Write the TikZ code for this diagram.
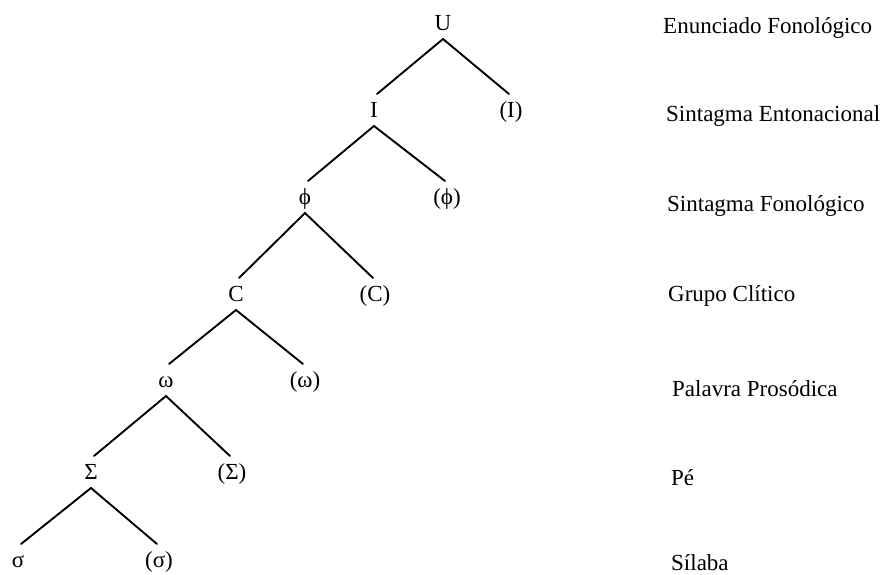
\documentclass[tikz,border=0pt]{standalone}
\usepackage{fontspec}
\setmainfont{Liberation Serif}
\begin{document}
\begin{tikzpicture}[x=1pt,y=-1pt,
  tnode/.style={inner sep=0pt,outer sep=0pt,text height=23pt,text depth=9pt,font=\fontsize{23}{27}\selectfont},
  lvl/.style={anchor=base west,inner sep=0pt,font=\fontsize{23}{27}\selectfont},
  edge/.style={line width=1.9pt,line cap=round}]
\useasboundingbox (0,0) rectangle (884,574);
% tree nodes
\node[tnode] (U) at (443,23) {U};
\node[tnode] (I) at (374,110) {I};
\node[tnode] (Ir) at (511,110) {(I)};
\node[tnode] (P) at (305,197) {ϕ};
\node[tnode] (Pr) at (447,197) {(ϕ)};
\node[tnode] (C) at (236,294) {C};
\node[tnode] (Cr) at (375,294) {(C)};
\node[tnode] (W) at (166,380) {ω};
\node[tnode] (Wr) at (305,380) {(ω)};
\node[tnode] (S) at (91,472) {Σ};
\node[tnode] (Sr) at (232,472) {(Σ)};
\node[tnode] (s) at (18,560) {σ};
\node[tnode] (sr) at (159,560) {(σ)};
% edges
\draw[edge] ([xshift=3pt]I.north) -- (U.south) -- ([xshift=-2pt]Ir.north);
\draw[edge] ([xshift=3pt]P.north) -- (I.south) -- ([xshift=-2pt]Pr.north);
\draw[edge] ([xshift=3pt]C.north) -- (P.south) -- ([xshift=-2pt]Cr.north);
\draw[edge] ([xshift=3pt]W.north) -- (C.south) -- ([xshift=-2pt]Wr.north);
\draw[edge] ([xshift=3pt]S.north) -- (W.south) -- ([xshift=-2pt]Sr.north);
\draw[edge] ([xshift=3pt]s.north) -- (S.south) -- ([xshift=-2pt]sr.north);
% level labels
\node[lvl] (l1) at (663,33) {Enunciado Fonológico};
\node[lvl] (l2) at (666,121) {Sintagma Entonacional};
\node[lvl] (l3) at (667,211) {Sintagma Fonológico};
\node[lvl] (l4) at (668,301) {Grupo Clítico};
\node[lvl] (l5) at (672,396) {Palavra Prosódica};
\node[lvl] (l6) at (671,485) {Pé};
\node[lvl] (l7) at (671,570) {Sílaba};
\end{tikzpicture}
\end{document}
